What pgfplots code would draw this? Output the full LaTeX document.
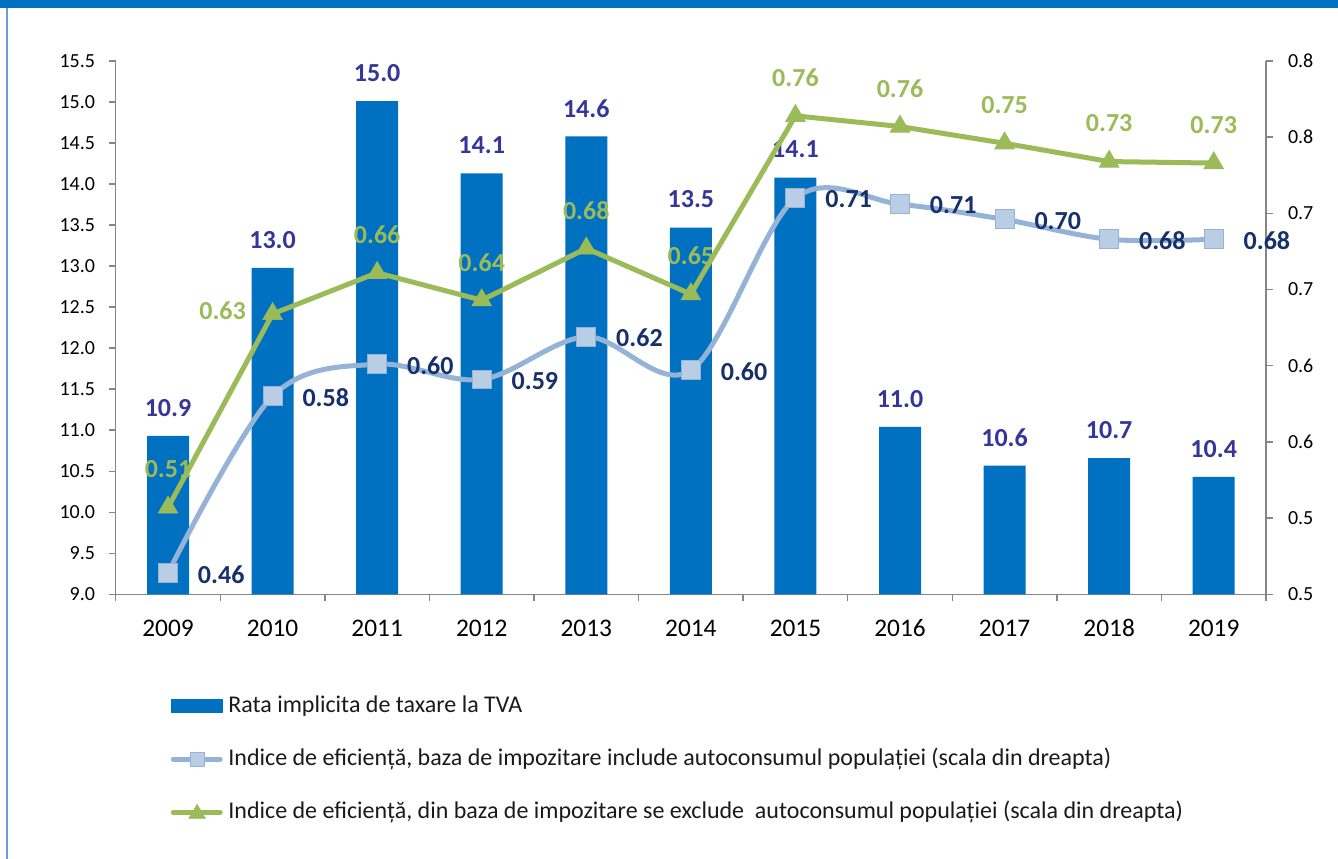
\documentclass[border=0pt]{standalone}
\usepackage{pgfplots}
\pgfplotsset{compat=1.18}
\usepackage{pgfplotstable}
\usepackage{fontspec}
\setmainfont{Carlito}
\pgfkeys{/pgf/number format/assume math mode=true}

\definecolor{barblue}{HTML}{0070C0}
\definecolor{barlab}{HTML}{35359A}
\definecolor{effblue}{HTML}{95B3D7}
\definecolor{efffill}{HTML}{B9CDE5}
\definecolor{efflab}{HTML}{16306B}
\definecolor{effgreen}{HTML}{9BBB59}
\definecolor{axgray}{HTML}{868686}
\definecolor{frameblue}{HTML}{6B9BD8}
\definecolor{legtext}{HTML}{1A1A1A}

\pgfplotstableread{
x bar b g gdx gdy
0 10.93 0.464 0.507 0 28.5
1 12.98 0.580 0.634 -37.5 2.5
2 15.01 0.601 0.661 0 28.5
3 14.13 0.591 0.643 0 28.5
4 14.58 0.619 0.677 0 28.5
5 13.47 0.597 0.647 0 28.5
6 14.08 0.710 0.764 0 28.5
7 11.04 0.706 0.757 0 28.5
8 10.57 0.696 0.746 0 28.5
9 10.66 0.683 0.734 0 28.5
10 10.43 0.683 0.733 0 28.5
}\data

\begin{document}
\begin{tikzpicture}
\path[fill=white] (0,0) rectangle (1003.5pt,644.25pt);
\fill[barblue] (0,638pt) rectangle (1003.5pt,644.25pt);
\fill[frameblue] (4.5pt,0) rectangle (6pt,638pt);

\begin{axis}[
  at={(86.8pt,198.5pt)}, anchor=south west, scale only axis,
  width=862.7pt, height=400pt,
  xmin=-0.5, xmax=10.5, ymin=9, ymax=15.5,
  axis x line*=bottom, axis y line*=left,
  axis line style={axgray, line width=1.1pt, -},
  tick align=outside,
  major tick length=5pt, minor tick length=5.25pt,
  tick style={axgray, line width=1.1pt},
  major x tick style={draw=none},
  xtick={0,...,10},
  xticklabels={2009,2010,2011,2012,2013,2014,2015,2016,2017,2018,2019},
  minor xtick={-0.5,0.5,1.5,2.5,3.5,4.5,5.5,6.5,7.5,8.5,9.5,10.5},
  ytick={9,9.5,10,10.5,11,11.5,12,12.5,13,13.5,14,14.5,15,15.5},
  yticklabel style={/pgf/number format/fixed, /pgf/number format/fixed zerofill, /pgf/number format/precision=1, font=\fontsize{15}{18}\selectfont, text=black, xshift=-7pt},
  xticklabel style={font=\fontsize{19}{22}\selectfont, text=black, anchor=north, text height=12pt, text depth=0pt, inner sep=0pt, yshift=-14.5pt},
  legend style={at={(0.0476,-0.1888)}, anchor=north west, draw=none, fill=none,
    inner sep=0pt, outer sep=0pt, row sep=22.75pt,
    font=\fontsize{18}{21}\selectfont, text=legtext,
    nodes={inner sep=0pt, text height=13pt, text depth=4pt},
    /tikz/every odd column/.style={column sep=4pt}},
  legend cell align=left,
]
\addplot[ybar, bar width=31.5pt, fill=barblue, draw=none, point meta=y,
  nodes near coords={\pgfmathprintnumber[fixed,fixed zerofill,precision=1]{\pgfplotspointmeta}},
  every node near coord/.append style={anchor=center, yshift=21pt, font=\fontsize{19.5}{22}\bfseries\selectfont, text=barlab},
  legend image code/.code={\fill[barblue] (0pt,-5.25pt) rectangle (39pt,5.25pt);}
] table[x=x,y=bar]{\data};
\addlegendentry{Rata implicita de taxare la TVA}
\addlegendimage{legend image code/.code={
  \path (0pt,0pt) (39pt,0pt);
  \draw[effblue, line width=3.75pt, line cap=round] (1.9pt,0pt) -- (37.1pt,0pt);
  \fill[efffill, draw=effblue, line width=0.75pt] (14.5pt,-5.25pt) rectangle (25pt,5.25pt);}}
\addlegendentry{Indice de eficiență, baza de impozitare include autoconsumul populației (scala din dreapta)}
\addlegendimage{legend image code/.code={
  \path (0pt,0pt) (39pt,0pt);
  \draw[effgreen, line width=3.75pt, line cap=round] (1.9pt,0pt) -- (37.1pt,0pt);
  \fill[effgreen] (13.5pt,-4.5pt) -- (26pt,-4.5pt) -- (19.75pt,6pt) -- cycle;}}
\addlegendentry{Indice de eficiență, din baza de impozitare se exclude\ \ autoconsumul populației (scala din dreapta)}
\end{axis}

\begin{axis}[
  at={(86.8pt,198.5pt)}, anchor=south west, scale only axis,
  width=862.7pt, height=400pt,
  xmin=-0.5, xmax=10.5, ymin=0.45, ymax=0.8,
  axis x line=none, axis y line*=right,
  axis line style={axgray, line width=1.1pt, -},
  tick align=outside, major tick length=5pt,
  tick style={axgray, line width=1.1pt},
  ytick={0.45,0.5,0.55,0.6,0.65,0.7,0.75,0.8},
  yticklabels={0.5,0.5,0.6,0.6,0.7,0.7,0.8,0.8},
  yticklabel style={font=\fontsize{15}{18}\selectfont, text=black, xshift=8pt},
  clip=false,
]
\addplot[effblue, line width=3.75pt, smooth, tension=0.55,
  mark=square*, mark size=7.1pt,
  mark options={fill=efffill, draw=effblue, line width=0.75pt},
  point meta=y,
  nodes near coords={\pgfmathprintnumber[fixed,fixed zerofill,precision=2]{\pgfplotspointmeta}},
  every node near coord/.append style={anchor=west, xshift=18.75pt, yshift=-1pt, font=\fontsize{19.5}{22}\bfseries\selectfont, text=efflab}
] table[x=x,y=b]{\data};
\addplot[effgreen, line width=3.75pt,
  mark=triangle*, mark size=8.5pt,
  mark options={fill=effgreen, draw=effgreen, line width=0.5pt},
  point meta=y,
  visualization depends on={\thisrow{gdx} \as \gdx},
  visualization depends on={\thisrow{gdy} \as \gdy},
  nodes near coords={\pgfmathprintnumber[fixed,fixed zerofill,precision=2]{\pgfplotspointmeta}},
  every node near coord/.append style={anchor=center, xshift=\gdx pt, yshift=\gdy pt, font=\fontsize{19.5}{22}\bfseries\selectfont, text=effgreen}
] table[x=x,y=g]{\data};
\end{axis}
\end{tikzpicture}
\end{document}
